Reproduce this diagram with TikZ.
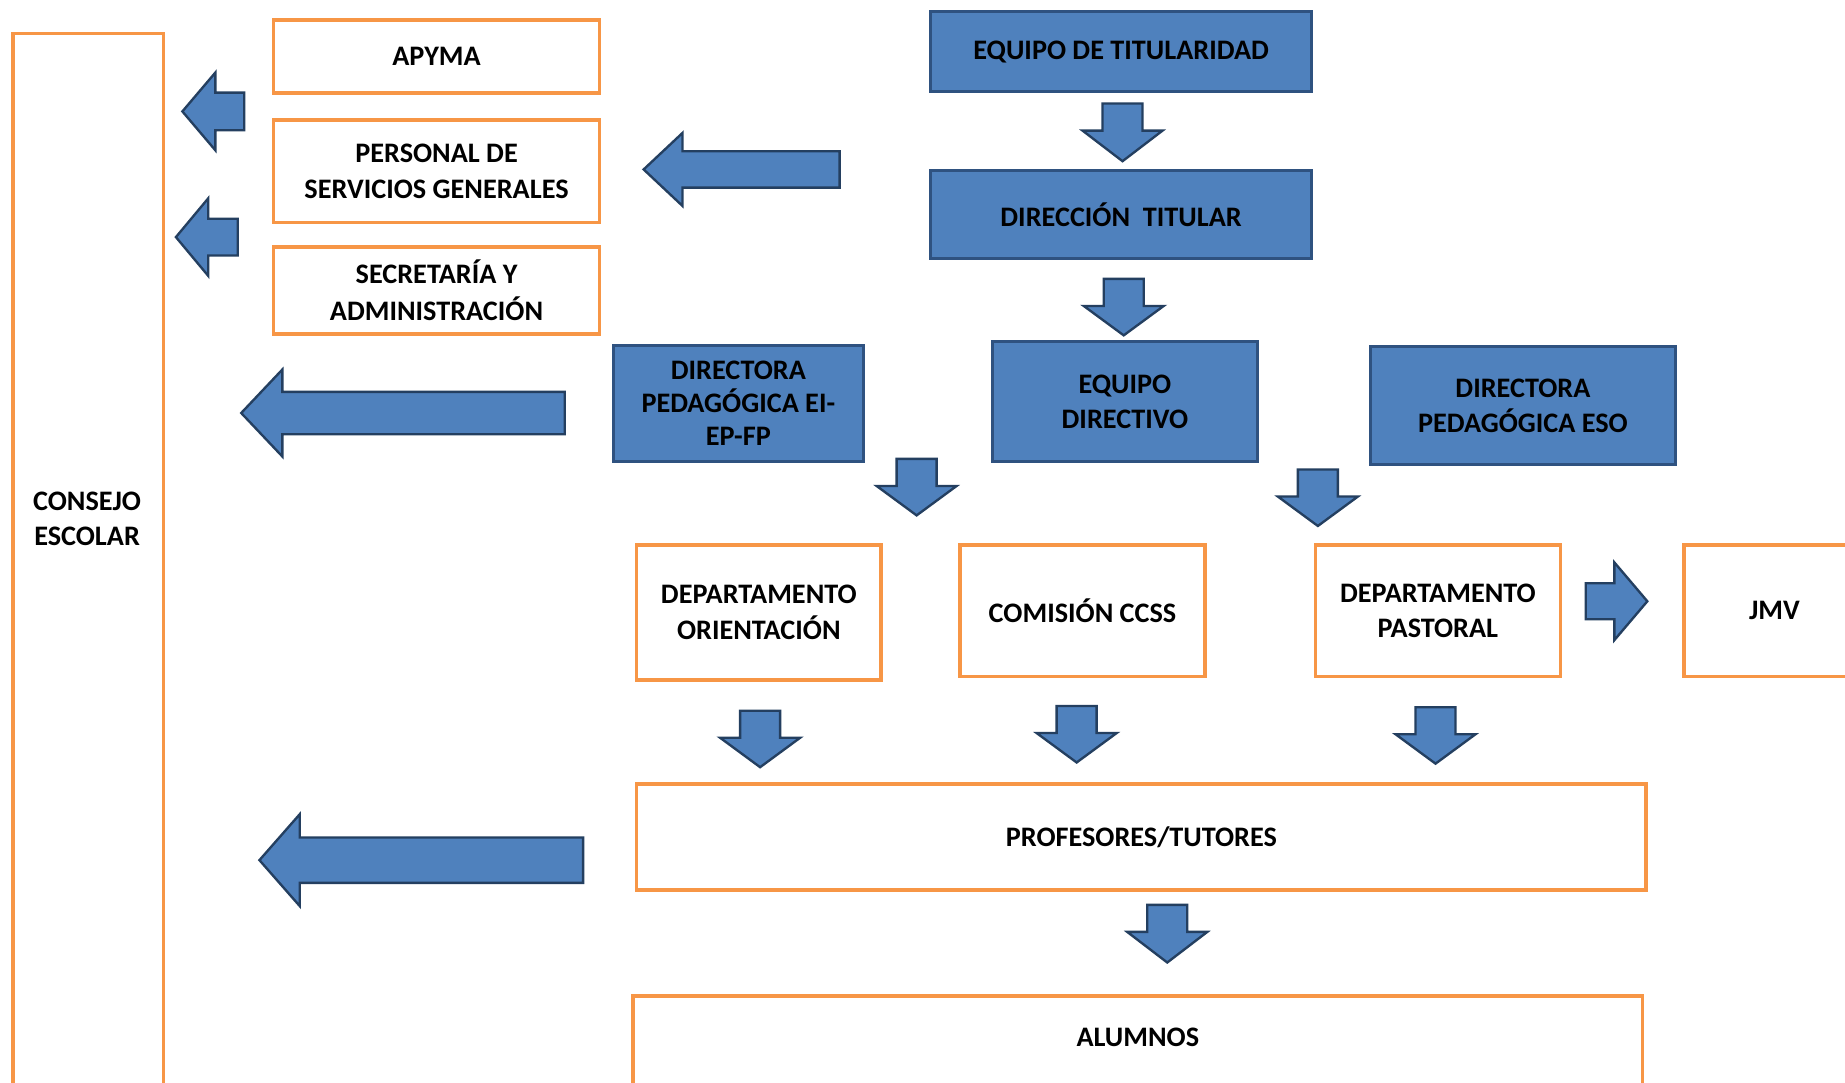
\documentclass[tikz,border=0pt]{standalone}
\usepackage{fontspec}
\setmainfont{Carlito}
\definecolor{orangeC}{HTML}{F79646}
\definecolor{blueF}{HTML}{4F81BD}
\definecolor{blueB}{HTML}{2F5280}
\definecolor{blueA}{HTML}{243F60}
\tikzset{
  txt/.style={align=center,font=\bfseries\fontsize{24}{30}\selectfont,text=black,inner sep=0pt},
  obox/.style={txt,draw=orangeC,line width=3pt,fill=white},
  bbox/.style={txt,draw=blueB,line width=2.5pt,fill=blueF},
  blk/.style={draw=blueA,fill=blueF,line width=2pt,line join=miter}
}
\newcommand\arrdown[3]{\draw[blk] (#1-17,#2) -- (#1+17,#2) -- (#1+17,#2+23) -- (#1+34,#2+23) -- (#1,#3) -- (#1-34,#2+23) -- (#1-17,#2+23) -- cycle;}
\newcommand\arrleft[6]{\draw[blk] (#1,#2) -- (#3,#2-#6) -- (#3,#2-#5) -- (#4,#2-#5) -- (#4,#2+#5) -- (#3,#2+#5) -- (#3,#2+#6) -- cycle;}
\begin{document}
\begin{tikzpicture}[x=1pt,y=-1pt]
\useasboundingbox (0,0) rectangle (1568,920);
\clip (0,0) rectangle (1568,920);
\fill[white] (0,0) rectangle (1568,920);

% left column
\node[obox,minimum width=128pt,minimum height=930pt,anchor=north] (consejo) at (75,27) {};
\node[txt] (consejotxt) at (74,441) {CONSEJO\\ESCOLAR};

\node[obox,minimum width=277pt,minimum height=62pt] (apyma) at (371,48) {APYMA};
\node[obox,minimum width=277pt,minimum height=87pt] (personal) at (371,145.6) {PERSONAL DE\\SERVICIOS GENERALES};
\node[obox,minimum width=277pt,minimum height=74pt] (secret) at (371,246.8) {SECRETARÍA Y\\[2pt]ADMINISTRACIÓN};

% blue boxes
\node[bbox,minimum width=323.5pt,minimum height=68pt] (titular) at (952.8,44) {EQUIPO DE TITULARIDAD};
\node[bbox,minimum width=323.5pt,minimum height=74.5pt] (direccion) at (952.8,182.2) {DIRECCIÓN~ TITULAR};
\node[bbox,minimum width=213pt,minimum height=99pt] (dirEI) at (627.5,342.8) {DIRECTORA\\[-2pt]PEDAGÓGICA EI-\\[-2pt]EP-FP};
\node[bbox,minimum width=225pt,minimum height=102pt] (eqdir) at (956,341.4) {EQUIPO\\DIRECTIVO};
\node[bbox,minimum width=258.6pt,minimum height=100.4pt] (dirESO) at (1294.3,344.8) {DIRECTORA\\PEDAGÓGICA ESO};

% orange middle row
\node[obox,minimum width=207.7pt,minimum height=115pt] (orient) at (644.9,520.5) {DEPARTAMENTO\\ORIENTACIÓN};
\node[obox,minimum width=208pt,minimum height=112pt] (comision) at (920,519) {COMISIÓN CCSS};
\node[obox,minimum width=208pt,minimum height=112pt] (pastoral) at (1222,519) {DEPARTAMENTO\\PASTORAL};
\node[obox,minimum width=154pt,minimum height=112pt] (jmv) at (1508,519) {JMV};

\node[obox,minimum width=858pt,minimum height=90pt] (profes) at (970,711.4) {PROFESORES/TUTORES};
\node[obox,minimum width=858pt,minimum height=120pt,anchor=north] (alumnos) at (967,845) {};
\node[txt] (alumnostxt) at (967,882) {ALUMNOS};

% block arrows down
\arrdown{954}{88}{137}
\arrdown{955}{237}{285}
\arrdown{779}{390}{438}
\arrdown{1120}{399}{447}
\arrdown{646}{604}{652}
\arrdown{915}{600}{648}
\arrdown{1220}{601}{649}
\arrdown{992}{769}{818}

% block arrows left
\arrleft{155}{94.7}{183}{207.6}{16}{33}
\arrleft{149.5}{201.5}{177}{202}{15.6}{33}
\arrleft{547}{144}{580}{713.6}{15.5}{31}
\arrleft{205}{351}{240}{480}{18}{37}
\arrleft{220.5}{731}{254.7}{495.6}{19.3}{39}

% block arrow right
\draw[blk] (1400,511) -- (1372,478) -- (1372,495.7) -- (1347.6,495.7) -- (1347.6,526.3) -- (1372,526.3) -- (1372,544) -- cycle;
\end{tikzpicture}
\end{document}
